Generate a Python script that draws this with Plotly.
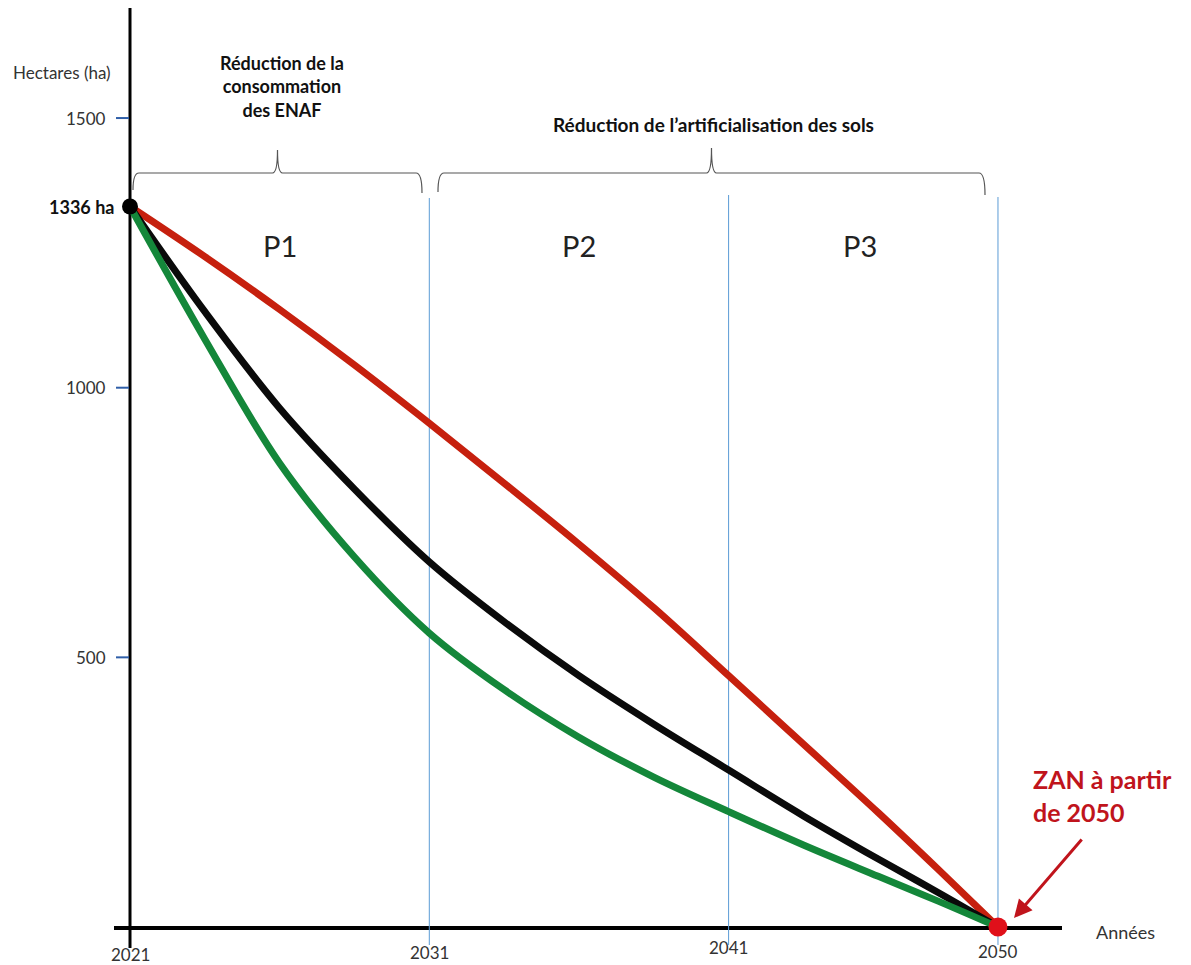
import plotly.graph_objects as go

# ---- data ----
years = [2021, 2023.5, 2026, 2028.5, 2031, 2033.5, 2036, 2038.5, 2041, 2043.5, 2046, 2048, 2050]
red_ha = [1336, 1243, 1145, 1042, 934, 823, 710, 592, 466, 339, 212, 107, 0]
black_ha = [1336, 1141, 962, 812, 677, 566, 466, 376, 291, 206, 126, 64, 0]
green_ha = [1336, 1090, 860, 686, 545, 440, 352, 278, 214, 152, 94, 48, 0]
start_year, start_ha = 2021, 1336
end_year, end_ha = 2050, 0
xtick_years = [2021, 2031, 2041, 2050]
ytick_vals = [1500, 1000, 500]
period_labels = ["P1", "P2", "P3"]
period_centers = [2026, 2036, 2045.4]

OFF = 8  # page body margin
W, H = 1191 - OFF, 965 - OFF

def px2x(p):
    return 2021 + (p - 130) / 29.93

def py2y(p):
    return (927 - p) / 0.5393

X0, X1 = px2x(OFF), px2x(1191)
Y0, Y1 = py2y(965), py2y(OFF)

FONT = "Lato"
fig = go.Figure()

def line(x, y, color, w):
    fig.add_trace(go.Scatter(x=x, y=y, mode="lines",
                             line=dict(color=color, width=w, shape="spline", smoothing=1.0),
                             hoverinfo="skip", showlegend=False))

line(years, red_ha, "#c6200e", 7)
line(years, black_ha, "#0a0a0a", 7)
line(years, green_ha, "#14873a", 7)

fig.add_trace(go.Scatter(x=[start_year], y=[start_ha], mode="markers",
                         marker=dict(color="#000000", size=16), showlegend=False, hoverinfo="skip"))
fig.add_trace(go.Scatter(x=[end_year], y=[end_ha], mode="markers",
                         marker=dict(color="#e0101a", size=19), showlegend=False, hoverinfo="skip"))

shapes = []
# axes
shapes.append(dict(type="line", xref="x", yref="y", x0=2021, x1=2021, y0=Y1, y1=py2y(948),
                   line=dict(color="#000", width=3), layer="below"))
shapes.append(dict(type="line", xref="x", yref="y", x0=px2x(114), x1=px2x(1062), y0=py2y(928), y1=py2y(928),
                   line=dict(color="#000", width=4), layer="below"))
# vertical blue lines
for yr, top in zip(xtick_years[1:], [198, 195, 197]):
    shapes.append(dict(type="line", xref="x", yref="y", x0=yr, x1=yr, y0=py2y(top), y1=py2y(945),
                       line=dict(color="#5b9bd5", width=1), layer="below"))
# y ticks
for v in ytick_vals:
    shapes.append(dict(type="line", xref="x", yref="y", x0=px2x(116), x1=px2x(129), y0=v, y1=v,
                       line=dict(color="#2f5fa8", width=2)))

def brace(xl, xr, ybar, yl_end, yr_end, ypeak):
    xm = (xl + xr) / 2
    def P(px, py):
        return f"{(px-OFF)/W:.5f},{1-(py-OFF)/H:.5f}"
    d = (f"M {P(xl, yl_end)} Q {P(xl, ybar)} {P(xl+6, ybar)} L {P(xm-5, ybar)} "
         f"Q {P(xm, ybar)} {P(xm, ypeak)} Q {P(xm, ybar)} {P(xm+5, ybar)} "
         f"L {P(xr-6, ybar)} Q {P(xr, ybar)} {P(xr, yr_end)}")
    return dict(type="path", xref="paper", yref="paper", path=d, line=dict(color="#555", width=1.2))

shapes.append(brace(133, 422, 173, 190, 193, 150))
shapes.append(brace(438, 985, 173, 192, 195, 148))

ann = []
def text(x, y, t, size=14, color="#333", bold=False, xanchor="center", align="center", yanchor="middle"):
    if bold:
        t = "<b>" + t + "</b>"
    ann.append(dict(x=x, y=y, xref="x", yref="y", text=t, showarrow=False,
                    font=dict(family=FONT, size=size, color=color), xanchor=xanchor,
                    yanchor=yanchor, align=align))

text(px2x(62), py2y(72), "Hectares (ha)", 17)
for v in ytick_vals:
    text(px2x(108), v, str(v), 17, xanchor="right")
text(px2x(116), start_ha, f"{start_ha} ha", 18, color="#111", bold=True, xanchor="right")
for yr, py in zip(xtick_years, [954, 952, 947, 951]):
    text(yr, py2y(py), str(yr), 17)
text(px2x(1125), py2y(932), "Années", 18)
text(px2x(282), py2y(86), "Réduction de la<br>consommation<br>des ENAF", 18, color="#111", bold=True)
text(px2x(713), py2y(124), "Réduction de l’artificialisation des sols", 19, color="#111", bold=True)
for lab, c in zip(period_labels, period_centers):
    text(c, py2y(245), lab, 29, color="#222")
text(px2x(1031), py2y(795), "ZAN à partir<br>de 2050", 25, color="#c0141c", bold=True, xanchor="left", align="left")
ann.append(dict(x=px2x(1014), y=py2y(918), ax=px2x(1083), ay=py2y(838), xref="x", yref="y", axref="x", ayref="y",
                text="", showarrow=True, arrowhead=2, arrowsize=1.2, arrowwidth=3, arrowcolor="#c0141c"))

fig.update_layout(
    width=W, height=H, margin=dict(l=0, r=0, t=0, b=0),
    paper_bgcolor="white", plot_bgcolor="white",
    xaxis=dict(range=[X0, X1], visible=False, fixedrange=True),
    yaxis=dict(range=[Y0, Y1], visible=False, fixedrange=True),
    shapes=shapes, annotations=ann, font=dict(family=FONT),
)
fig.write_html("out.html")
